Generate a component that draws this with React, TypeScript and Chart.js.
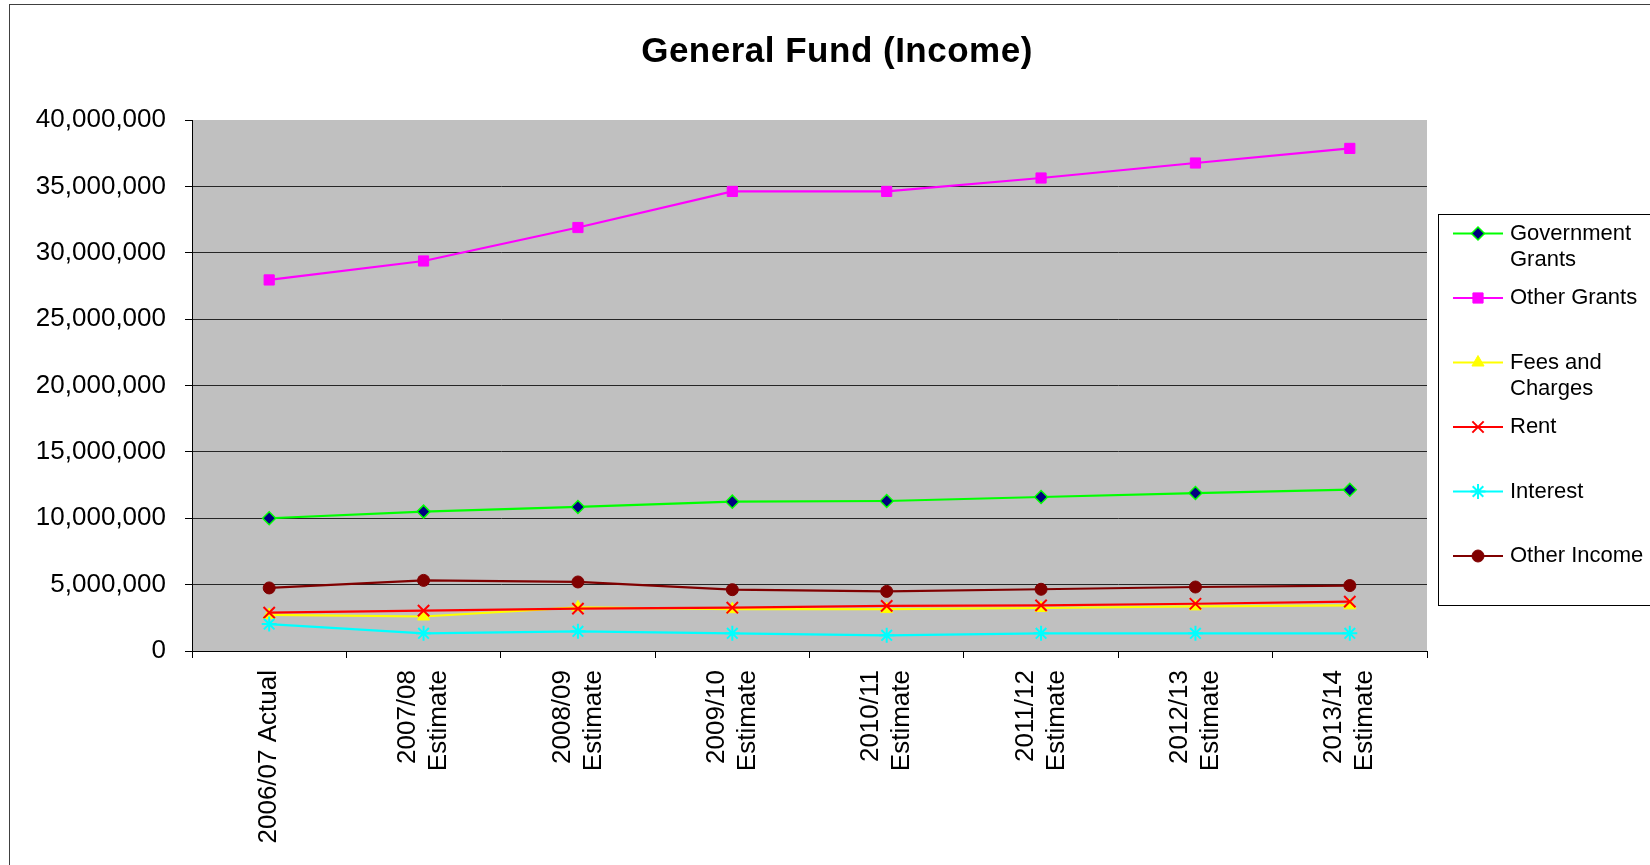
import React, { useEffect, useRef } from 'react';
import { Chart, registerables } from 'chart.js';
import { drawPoint } from 'chart.js/helpers';

Chart.register(...registerables);

// ---------- data ----------
const categories: string[][] = [
  ['2006/07 Actual'],
  ['2007/08', 'Estimate'],
  ['2008/09', 'Estimate'],
  ['2009/10', 'Estimate'],
  ['2010/11', 'Estimate'],
  ['2011/12', 'Estimate'],
  ['2012/13', 'Estimate'],
  ['2013/14', 'Estimate'],
];

const seriesNames: string[][] = [
  ['Government', 'Grants'],
  ['Other Grants'],
  ['Fees and', 'Charges'],
  ['Rent'],
  ['Interest'],
  ['Other Income'],
];

const governmentGrants = [10000000, 10500000, 10850000, 11250000, 11300000, 11600000, 11900000, 12150000];
const otherGrants = [27950000, 29380000, 31900000, 34620000, 34620000, 35630000, 36760000, 37860000];
const feesAndCharges = [2720000, 2600000, 3290000, 3150000, 3160000, 3240000, 3360000, 3440000];
const rent = [2890000, 3040000, 3190000, 3260000, 3400000, 3440000, 3560000, 3720000];
const interest = [2030000, 1330000, 1480000, 1330000, 1180000, 1330000, 1330000, 1330000];
const otherIncome = [4750000, 5320000, 5200000, 4620000, 4490000, 4650000, 4820000, 4930000];

const yMin = 0;
const yMax = 40000000;
const yStep = 5000000;

const chartTitle = 'General Fund (Income)';

// ---------- styles ----------
const FONT = '"Liberation Sans", Arial, Helvetica, sans-serif';
const W = 1650;
const H = 865;

const styles = [
  { color: '#00FF00', pointStyle: 'rectRot', radius: 6.5, bg: '#000080', border: '#00FF00', bw: 1.5 },
  { color: '#FF00FF', pointStyle: 'rect', radius: 7.2, bg: '#FF00FF', border: '#FF00FF', bw: 1 },
  { color: '#FFFF00', pointStyle: 'triangle', radius: 7, bg: '#FFFF00', border: '#FFFF00', bw: 1 },
  { color: '#FF0000', pointStyle: 'crossRot', radius: 8, bg: '#FF0000', border: '#FF0000', bw: 2 },
  { color: '#00FFFF', pointStyle: 'star', radius: 7.5, bg: '#00FFFF', border: '#00FFFF', bw: 2 },
  { color: '#800000', pointStyle: 'circle', radius: 6, bg: '#800000', border: '#800000', bw: 1 },
];

const seriesData = [governmentGrants, otherGrants, feesAndCharges, rent, interest, otherIncome];

const decorPlugin = {
  id: 'decor',
  beforeDraw(chart: any) {
    const { ctx, chartArea } = chart;
    ctx.save();
    // outer frame
    ctx.strokeStyle = '#404040';
    ctx.lineWidth = 1;
    ctx.strokeRect(9.5, 4.5, 3000, 3000);
    // plot background
    ctx.fillStyle = '#C0C0C0';
    ctx.fillRect(chartArea.left, chartArea.top, chartArea.right - chartArea.left, chartArea.bottom - chartArea.top);
    // title
    ctx.fillStyle = '#000';
    ctx.font = `bold 35px ${FONT}`;
    try { (ctx as any).letterSpacing = '0.5px'; } catch (e) {}
    ctx.textAlign = 'center';
    ctx.textBaseline = 'alphabetic';
    ctx.fillText(chartTitle, 837, 62);
    try { (ctx as any).letterSpacing = '0px'; } catch (e) {}
    ctx.restore();
  },
  afterDraw(chart: any) {
    const { ctx, chartArea } = chart;
    const xScale = chart.scales.x;
    ctx.save();
    // x-axis category labels (rotated, multi-line centred on category)
    ctx.fillStyle = '#000';
    ctx.font = `26px ${FONT}`;
    ctx.textAlign = 'right';
    ctx.textBaseline = 'middle';
    const lh = 31;
    categories.forEach((lines, i) => {
      const x = xScale.getPixelForValue(i);
      ctx.save();
      ctx.translate(x, chartArea.bottom + 19);
      ctx.rotate(-Math.PI / 2);
      lines.forEach((ln, j) => {
        ctx.fillText(ln, 0, (j - (lines.length - 1) / 2) * lh);
      });
      ctx.restore();
    });

    // legend
    const boxL = 1438.5;
    const boxT = 214.5;
    const boxB = 605.5;
    ctx.strokeStyle = '#000';
    ctx.lineWidth = 1;
    ctx.strokeRect(boxL, boxT, 1000, boxB - boxT);
    ctx.font = `22px ${FONT}`;
    ctx.textAlign = 'left';
    ctx.textBaseline = 'middle';
    seriesNames.forEach((lines, i) => {
      const y = 233.5 + i * 64.5;
      const s = styles[i];
      ctx.strokeStyle = s.color;
      ctx.lineWidth = 2;
      ctx.beginPath();
      ctx.moveTo(1453, y);
      ctx.lineTo(1503, y);
      ctx.stroke();
      ctx.fillStyle = s.bg;
      ctx.strokeStyle = s.border;
      ctx.lineWidth = s.bw;
      drawPoint(ctx, { pointStyle: s.pointStyle, radius: s.radius, rotation: 0, borderWidth: s.bw } as any, 1478, y);
      ctx.fillStyle = '#000';
      lines.forEach((ln, j) => {
        ctx.fillText(ln, 1510, y + j * 26.5);
      });
    });
    ctx.restore();
  },
};

export default function App() {
  const ref = useRef<HTMLCanvasElement | null>(null);

  useEffect(() => {
    if (!ref.current) return;
    const chart = new Chart(ref.current, {
      type: 'line',
      data: {
        labels: categories.map((c) => c.join(' ')),
        datasets: seriesData.map((d, i) => ({
          label: seriesNames[i].join(' '),
          data: d,
          borderColor: styles[i].color,
          backgroundColor: styles[i].bg,
          borderWidth: 2.2,
          fill: false,
          tension: 0,
          pointStyle: styles[i].pointStyle as any,
          pointRadius: styles[i].radius,
          pointBackgroundColor: styles[i].bg,
          pointBorderColor: styles[i].border,
          pointBorderWidth: styles[i].bw,
          order: 6 - i,
        })),
      },
      options: {
        responsive: false,
        animation: false,
        events: [],
        layout: { padding: { left: 0, right: W - 1427, top: 120, bottom: 0 } },
        plugins: {
          legend: { display: false },
          title: { display: false },
          tooltip: { enabled: false },
        },
        scales: {
          x: {
            type: 'category',
            offset: true,
            grid: {
              display: true,
              offset: true,
              drawOnChartArea: false,
              drawTicks: true,
              tickLength: 7,
              color: '#000',
              tickColor: '#000',
            },
            border: { display: true, color: '#000', width: 1 },
            ticks: { display: false },
            afterFit: (scale: any) => {
              scale.height = H - 651;
            },
          },
          y: {
            type: 'linear',
            min: yMin,
            max: yMax,
            grid: {
              color: (c: any) => (c.tick && c.tick.value === yMax ? 'rgba(0,0,0,0)' : '#262626'),
              tickColor: '#000',
              tickLength: 7,
              lineWidth: 1,
            },
            border: { display: true, color: '#000', width: 1 },
            ticks: {
              stepSize: yStep,
              padding: 19,
              color: '#000',
              font: { family: FONT, size: 26 },
              callback: (v: any) => Number(v).toLocaleString('en-US'),
            },
            afterFit: (scale: any) => {
              scale.width = 192;
            },
          },
        },
      },
      plugins: [decorPlugin],
    });
    return () => chart.destroy();
  }, []);

  return (
    <div style={{ position: 'fixed', left: 0, top: 0, width: W, height: H, background: '#fff' }}>
      <canvas ref={ref} width={W} height={H} style={{ display: 'block', width: W, height: H }} />
    </div>
  );
}
